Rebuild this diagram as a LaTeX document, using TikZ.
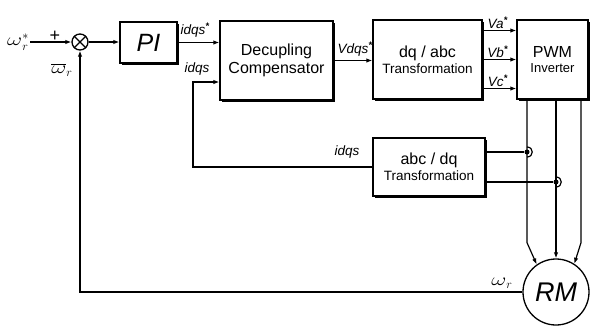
\documentclass[tikz,border=0pt]{standalone}
\usepackage{fontspec}
\setmainfont{Liberation Sans}
\usetikzlibrary{arrows.meta,positioning,calc,shadows}
\newcommand{\omr}{\scalebox{1.35}[1]{$\omega$}}
\newcommand{\estrela}{\textsuperscript{\bfseries *}}

\begin{document}
\begin{tikzpicture}[x=1pt,y=-1pt,
bloco/.style={draw, line width=1.3pt, fill=white, align=center, drop shadow={shadow xshift=2.4pt, shadow yshift=-2.4pt, fill=black, opacity=1}},
grande/.style={font=\fontsize{16}{18}\selectfont},
rotulo/.style={font=\fontsize{13.5}{13.5}\selectfont\itshape, inner sep=1pt},
sinal/.style={font=\fontsize{18}{18}\selectfont, inner sep=1pt},
ponto/.style={circle, fill, inner sep=0pt, minimum size=5pt},
seta/.style={-{Latex[length=6pt,width=4.5pt]}, line width=1.2pt},
linha/.style={line width=1.2pt}
]
\useasboundingbox (0,0) rectangle (592,327);

% blocos
\node[bloco, minimum width=57pt, minimum height=41pt, font=\fontsize{25}{25}\selectfont\itshape] (pi) at (148.5,42.5) {PI};
\node[bloco, grande, minimum width=113pt, minimum height=79pt] (dec) at (276.5,60.5) {Decupling\\Compensator};
\node[bloco, minimum width=109pt, minimum height=79pt] (dqabc) at (427.5,59.5) {\fontsize{16}{18}\selectfont dq / abc\\[2pt]\fontsize{13.5}{15}\selectfont Transformation};
\node[bloco, minimum width=71pt, minimum height=79pt] (pwm) at (552.5,59.5) {\fontsize{16}{18}\selectfont PWM\\[3pt]\fontsize{13}{15}\selectfont Inverter};
\node[bloco, minimum width=112pt, minimum height=58pt] (abcdq) at (429,167) {\fontsize{16}{18}\selectfont abc / dq\\[2pt]\fontsize{13.5}{15}\selectfont Transformation};
\node[draw, circle, line width=1.3pt, minimum size=66pt, inner sep=0pt, font=\fontsize{27}{27}\selectfont\itshape] (rm) at (556,292) {RM};
\node[draw, circle, line width=1.3pt, minimum size=16pt, inner sep=0pt] (sum) at (80,42) {};
\draw[linha] (sum.45) -- (sum.225) (sum.135) -- (sum.315);

% entrada e realimentacao
\coordinate (in) at (30,42);
\node[sinal, anchor=east] (wref) at (in) {$\omr_r^{*}$};
\node[sinal] (mais) at (55,36) {+};
\node[sinal] (menos) at (62,70) {$\overline{\omr}_r$};
\draw[seta] (in) -- (sum.west);
\draw[seta] (rm.west) -| (sum.south);
\node[sinal] (wfb) at (502,283) {$\omr_r$};

% malha direta
\draw[seta] (sum.east) -- (sum.east -| pi.west);
\draw[seta] (pi.east) -- (pi.east -| dec.west);
\node[rotulo] (iref) at (195,30) {idqs\estrela};
\draw[seta] (dec.east) -- (dec.east -| dqabc.west);
\node[rotulo] (vref) at (355,49) {Vdqs\estrela};
\foreach \dy/\nm in {-29/a,0/b,29/c}
  \draw[seta] ($(dqabc.east)+(0,\dy)$) -- ($(pwm.west)+(0,\dy)$) node[rotulo, above, pos=0.45] (v\nm) {V\nm\estrela};

% corrente medida
\coordinate (retx) at (193,0);
\draw[seta] (abcdq.west) -- (abcdq.west -| retx) |- ($(dec.west)+(0,21.5)$);
\node[rotulo] (imed) at (197,69) {idqs};
\node[rotulo] (imed2) at (347,152) {idqs};

% saidas do inversor
\coordinate (la) at ($(pwm.south)+(-25.5,0)$);
\coordinate (lb) at (rm.north |- pwm.south);
\coordinate (lc) at ($(pwm.south)+(28.5,0)$);
\draw[seta] (la) -- ++(0,143) -- (rm.125);
\draw[seta] (lb) -- (rm.north);
\draw[seta] (lc) -- ++(0,143) -- (rm.57);

% sensores
\coordinate (oa) at ($(abcdq.east)+(0,-15)$);
\coordinate (ob) at ($(abcdq.east)+(0,15)$);
\node[ponto] (da) at (oa -| la) {};
\node[ponto] (db) at (ob -| lb) {};
\draw[linha] (oa) -- (da);
\draw[linha] (ob) -- (db);
\draw[linha] ($(da)+(0,-5)$) .. controls +(7,0) and +(7,0) .. ($(da)+(0,5)$);
\draw[linha] ($(db)+(0,-5)$) .. controls +(7,0) and +(7,0) .. ($(db)+(0,5)$);
\end{tikzpicture}
\end{document}
